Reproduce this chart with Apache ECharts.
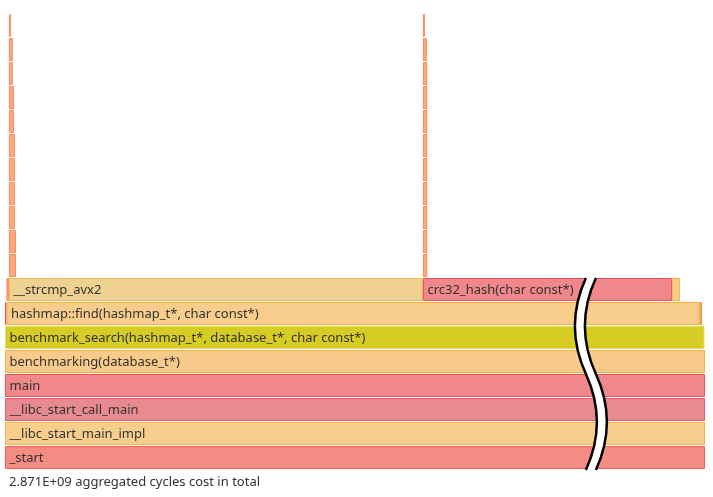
<!DOCTYPE html>
<html>
<head>
<meta charset="utf-8">
<style>
html, body { margin: 0; padding: 0; background: #fff; }
#main { width: 713px; height: 497px; }
</style>
<script src="https://cdn.jsdelivr.net/npm/echarts@6/dist/echarts.min.js"></script>
</head>
<body>
<div id="main"></div>
<script>
// costs are in millions of cycles
var totalCost = 2871;
var levelCount = 19;

var frameNames = [
    '_start', '__libc_start_main_impl', '__libc_start_call_main', 'main',
    'benchmarking(database_t*)', 'benchmark_search(hashmap_t*, database_t*, char const*)',
    '[unknown]', 'hashmap::find(hashmap_t*, char const*)', 'benchmark_search [inlined]',
    '[kernel]', '__strcmp_avx2', 'crc32_hash(char const*)', 'hashmap::find [inlined]',
    '[kernel]', '[kernel]', '[kernel]', '[kernel]', '[kernel]', '[kernel]', '[kernel]', '[kernel]', '[kernel]', '[kernel]', '[kernel]',
    '[kernel]', '[kernel]', '[kernel]', '[kernel]', '[kernel]', '[kernel]', '[kernel]', '[kernel]', '[kernel]', '[kernel]', '[kernel]'
];
var frameLevels = [
    0, 1, 2, 3, 4, 5,
    6, 6, 6,
    7, 7, 7, 7,
    8, 9, 10, 11, 12, 13, 14, 15, 16, 17, 18,
    8, 9, 10, 11, 12, 13, 14, 15, 16, 17, 18
];
var frameStarts = [
    0, 0, 0, 0, 0, 0,
    0, 6, 2850,
    6, 16, 1714, 2736,
    16, 16, 16, 16, 16, 16, 16, 16, 16, 16, 16,
    1714, 1714, 1714, 1714, 1714, 1714, 1714, 1714, 1714, 1714, 1714
];
var frameCosts = [
    2871, 2871, 2871, 2871, 2871, 2869,
    6, 2844, 9,
    10, 1698, 1022, 32,
    29, 29, 25, 25, 25, 25, 21, 21, 16, 16, 8,
    18, 18, 18, 18, 18, 18, 18, 18, 18, 16, 8
];

// axis cut marker
var breakAt = 2403;
var breakLevels = [0, 8];

// fill / border per frame name
var palette = {
    '_start': ['#F48C84', '#EF5F57'],
    '__libc_start_main_impl': ['#F8CE8D', '#F5B445'],
    '__libc_start_call_main': ['#E88B91', '#E15D6A'],
    'main': ['#EF878B', '#E9525B'],
    'benchmarking(database_t*)': ['#F9CB8A', '#F6B043'],
    'benchmark_search(hashmap_t*, database_t*, char const*)': ['#D6CC24', '#E6DE6C'],
    'hashmap::find(hashmap_t*, char const*)': ['#F8CD8C', '#F5B043'],
    '__strcmp_avx2': ['#F0D290', '#EEBB52'],
    'crc32_hash(char const*)': ['#EF878B', '#E9525B'],
    'hashmap::find [inlined]': ['#F8CE8D', '#F5B445'],
    'benchmark_search [inlined]': ['#F5A84A', '#F0993A'],
    '[unknown]': ['#E9525B', '#E9525B'],
    '[kernel]': ['#FFA77E', '#F98A5C']
};

function sciText(v) {
    var s = v.toExponential(3).split('e');
    var e = parseInt(s[1], 10);
    var ea = Math.abs(e);
    return s[0] + 'E' + (e < 0 ? '-' : '+') + (ea < 10 ? '0' + ea : ea);
}

var frameData = [];
for (var i = 0; i < frameNames.length; i++) {
    frameData.push([frameLevels[i], frameStarts[i], frameCosts[i]]);
}

function renderFrame(params, api) {
    var level = api.value(0), start = api.value(1), cost = api.value(2);
    var p0 = api.coord([start, level + 1]);
    var p1 = api.coord([start + cost, level]);
    var w = p1[0] - p0[0];
    var h = p1[1] - p0[1] - 1;
    var name = frameNames[params.dataIndex];
    var c = palette[name] || palette['[kernel]'];
    var kids = [{
        type: 'rect',
        shape: { x: p0[0] + 0.5, y: p0[1] + 0.5, width: Math.max(w - 1, 0.5), height: h - 1 },
        style: { fill: c[0], stroke: c[1], lineWidth: 1 }
    }];
    if (w > 40) {
        kids.push({
            type: 'text',
            style: {
                x: p0[0] + 4.5, y: p0[1] + h / 2 + 0.5,
                text: name, fill: '#333',
                font: '13px "Noto Sans"',
                align: 'left', verticalAlign: 'middle',
                width: w - 8, overflow: 'truncate'
            }
        });
    }
    return { type: 'group', children: kids };
}

function renderBreak(params, api) {
    var top = api.coord([breakAt, breakLevels[1]]);
    var bot = api.coord([breakAt, breakLevels[0]]);
    var cx = top[0], y0 = top[1], y1 = bot[1];
    var hgt = y1 - y0, A = 11;
    function curve(dx, rev) {
        var a = [cx + dx, y0], b = [cx + dx, y0 + hgt / 2], d = [cx + dx, y1];
        var q1 = [cx - 2 * A + dx, y0 + hgt / 4], q2 = [cx + 2 * A + dx, y0 + hgt * 3 / 4];
        if (!rev) return 'M' + a + 'Q' + q1 + ' ' + b + 'Q' + q2 + ' ' + d;
        return 'L' + d + 'Q' + q2 + ' ' + b + 'Q' + q1 + ' ' + a;
    }
    return {
        type: 'group',
        children: [
            { type: 'path', shape: { pathData: curve(-5) + curve(5, true) + 'Z' }, style: { fill: '#fff', stroke: null } },
            { type: 'path', shape: { pathData: curve(-5) }, style: { fill: null, stroke: '#000', lineWidth: 2.5 } },
            { type: 'path', shape: { pathData: curve(5) }, style: { fill: null, stroke: '#000', lineWidth: 2.5 } }
        ]
    };
}

var myChart = echarts.init(document.getElementById('main'));
myChart.setOption({
    animation: false,
    grid: { left: 5, right: 8, top: 14, bottom: 27 },
    xAxis: { type: 'value', min: 0, max: totalCost, show: false },
    yAxis: { type: 'value', min: 0, max: levelCount, show: false },
    graphic: [{
        type: 'text', left: 9, top: 476,
        style: {
            text: sciText(totalCost * 1e6) + ' aggregated cycles cost in total',
            fill: '#333', font: '13px "Noto Sans"'
        }
    }],
    series: [{
        type: 'custom',
        renderItem: renderFrame,
        data: frameData,
        z: 2
    }, {
        type: 'custom',
        renderItem: renderBreak,
        data: [[breakAt, 0]],
        z: 3,
        silent: true
    }]
});
</script>
</body>
</html>
